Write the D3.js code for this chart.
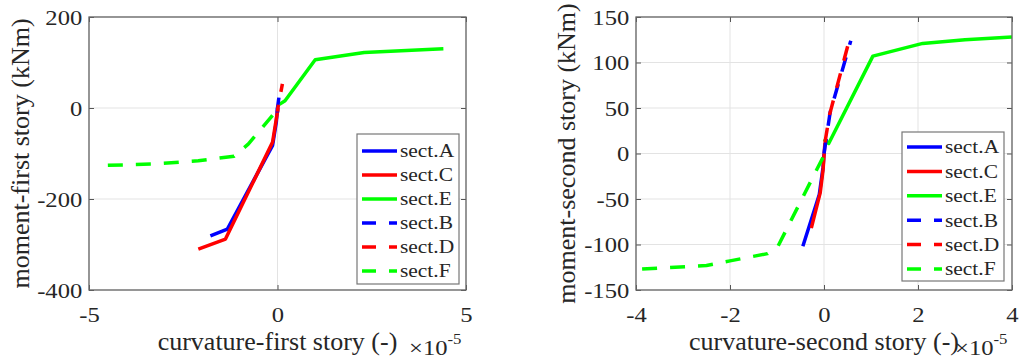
<!DOCTYPE html>
<html>
<head>
<meta charset="utf-8">
<script src="https://cdn.jsdelivr.net/npm/d3@7/dist/d3.min.js"></script>
<style>
  body { margin: 0; background: #fff; }
  svg text { font-family: "Liberation Serif", "Times New Roman", serif; fill: #262626; }
</style>
</head>
<body>
<svg id="chart" width="1025" height="363"></svg>
<script>
// ---- data: curvature (x 1e-5) vs moment (kNm) per section ----
const sectionNames = ["sect.A", "sect.C", "sect.E", "sect.B", "sect.D", "sect.F"];
const sectionColors = ["#0000ff", "#ff0000", "#00ff00", "#0000ff", "#ff0000", "#00ff00"];
const sectionDashed = [false, false, false, true, true, true];

// first story
const firstA = [[-1.78, -281], [-1.33, -266], [-0.13, -82], [-0.03, -30], [0, 0]];
const firstC = [[-2.1, -310], [-1.38, -288], [-0.13, -75], [0, -8], [0.01, 0]];
const firstE = [[0.05, 8], [0.2, 16], [1.0, 106], [2.3, 122], [4.4, 130]];
const firstB = [[0, -10], [0, 0], [0.05, 31]];
const firstD = [[0, -8], [0.01, 0], [0.13, 53]];
const firstF = [[-4.5, -126], [-3.3, -123], [-2.1, -116], [-1.15, -106], [-0.77, -79], [0, -3]];

// second story
const secondA = [[-0.45, -102], [-0.1, -45], [-0.02, -15], [0, 0]];
const secondC = [[-0.27, -82], [-0.08, -43], [-0.02, -18], [0.02, 12]];
const secondE = [[0.0, 16], [0.1, 11], [1.04, 107], [2.1, 121], [3.0, 125], [4.0, 128]];
const secondB = [[0, 0], [0.13, 45], [0.57, 124]];
const secondD = [[0.02, 12], [0.12, 43], [0.53, 123]];
const secondF = [[-3.87, -127], [-2.5, -123], [-2.0, -118], [-1.2, -110], [-0.98, -102], [0, -2]];

// axes limits and ticks
const firstXTicks = [-5, 0, 5];
const firstYTicks = [-400, -200, 0, 200];
const secondXTicks = [-4, -2, 0, 2, 4];
const secondYTicks = [-150, -100, -50, 0, 50, 100, 150];

const firstXLabel = "curvature-first story (-)";
const firstYLabel = "moment-first story (kNm)";
const secondXLabel = "curvature-second story (-)";
const secondYLabel = "moment-second story (kNm)";

// ---- drawing ----
const svg = d3.select("#chart");
const SERIF = '"Liberation Serif", "Times New Roman", serif';
const TICK_FONT = 22, TICK_SX = 1.12;
const LEG_FONT = 19.5, LEG_SX = 1.1;
const LABEL_FONT = 26;
const DASH = "15,13";
const LW = 3.5;

function panel(cfg) {
  const { id, left, right, top, bottom, xTicks, yTicks, series, dashOffsets, xLabel, yLabel, legend, yLabelX } = cfg;
  const x = d3.scaleLinear().domain(d3.extent(xTicks)).range([left, right]);
  const y = d3.scaleLinear().domain(d3.extent(yTicks)).range([bottom, top]);
  const g = svg.append("g");

  // grid
  g.append("g").selectAll("line").data(xTicks).join("line")
    .attr("x1", d => x(d)).attr("x2", d => x(d)).attr("y1", top).attr("y2", bottom)
    .attr("stroke", "#e3e3e3").attr("stroke-width", 1);
  g.append("g").selectAll("line").data(yTicks).join("line")
    .attr("x1", left).attr("x2", right).attr("y1", d => y(d)).attr("y2", d => y(d))
    .attr("stroke", "#e3e3e3").attr("stroke-width", 1);

  // series
  g.append("clipPath").attr("id", "clip" + id).append("rect")
    .attr("x", left).attr("y", top).attr("width", right - left).attr("height", bottom - top);
  const line = d3.line().x(d => x(d[0])).y(d => y(d[1]));
  const plot = g.append("g").attr("clip-path", `url(#clip${id})`);
  series.forEach((s, i) => {
    plot.append("path").attr("d", line(s))
      .attr("fill", "none").attr("stroke", sectionColors[i]).attr("stroke-width", LW)
      .attr("stroke-linejoin", "round")
      .attr("stroke-dasharray", sectionDashed[i] ? DASH : null)
      .attr("stroke-dashoffset", sectionDashed[i] ? dashOffsets[i] : null);
  });

  // axes (inward ticks on all four sides)
  const axB = g.append("g").attr("transform", `translate(0,${bottom})`)
    .call(d3.axisBottom(x).tickValues(xTicks).tickSize(-5).tickPadding(16).tickFormat(d3.format("d")));
  const axT = g.append("g").attr("transform", `translate(0,${top})`)
    .call(d3.axisTop(x).tickValues(xTicks).tickSize(-5).tickFormat(""));
  const axL = g.append("g").attr("transform", `translate(${left},0)`)
    .call(d3.axisLeft(y).tickValues(yTicks).tickSize(-5).tickPadding(6).tickFormat(d3.format("d")));
  const axR = g.append("g").attr("transform", `translate(${right},0)`)
    .call(d3.axisRight(y).tickValues(yTicks).tickSize(-5).tickFormat(""));
  [axB, axT, axL, axR].forEach(a => {
    a.attr("font-family", SERIF).attr("font-size", TICK_FONT);
    a.select(".domain").remove();
    a.selectAll(".tick line").attr("stroke", "#555").attr("stroke-width", 1);
    a.selectAll("text")
      .style("font-family", SERIF).style("font-size", TICK_FONT + "px")
      .attr("fill", "#262626").attr("transform", `scale(${TICK_SX},1)`);
  });
  axB.selectAll("text").text(d => String(d));
  axL.selectAll("text").text(d => String(d));

  // box
  g.append("rect").attr("x", left).attr("y", top).attr("width", right - left).attr("height", bottom - top)
    .attr("fill", "none").attr("stroke", "#666").attr("stroke-width", 1.3);

  // axis labels
  g.append("text").attr("x", (left + right) / 2).attr("y", 350)
    .attr("text-anchor", "middle").attr("font-size", LABEL_FONT).text(xLabel);
  g.append("text").attr("transform", `translate(${yLabelX},${(top + bottom) / 2}) rotate(-90)`)
    .attr("text-anchor", "middle").attr("font-size", LABEL_FONT).text(yLabel);

  // exponent
  const ex = g.append("text").attr("transform", `translate(${right - 57},355) scale(${TICK_SX},1)`)
    .attr("font-size", TICK_FONT);
  ex.append("tspan").text("\u00d710");
  ex.append("tspan").attr("font-size", 15).attr("dy", -11).text("-5");

  // legend
  const lg = g.append("g");
  lg.append("rect").attr("x", legend.x).attr("y", legend.y).attr("width", legend.w).attr("height", legend.h)
    .attr("fill", "#fff").attr("stroke", "#777").attr("stroke-width", 1.2);
  sectionNames.forEach((name, i) => {
    const cy = legend.y + legend.first + i * legend.step;
    lg.append("line").attr("x1", legend.x + 5).attr("x2", legend.x + 40).attr("y1", cy).attr("y2", cy)
      .attr("stroke", sectionColors[i]).attr("stroke-width", LW)
      .attr("stroke-dasharray", sectionDashed[i] ? "14,13" : null);
    lg.append("text").attr("transform", `translate(${legend.x + 43},${cy}) scale(${LEG_SX},1)`)
      .attr("dy", "0.33em").attr("font-size", LEG_FONT).text(name);
  });
}

panel({
  id: "first", left: 89, right: 466, top: 17, bottom: 290,
  xTicks: firstXTicks, yTicks: firstYTicks,
  series: [firstA, firstC, firstE, firstB, firstD, firstF],
  dashOffsets: [0, 0, 0, 0, 8, 0],
  xLabel: firstXLabel, yLabel: firstYLabel, yLabelX: 29,
  legend: { x: 357, y: 134, w: 102, h: 150, first: 17, step: 24 }
});

panel({
  id: "second", left: 636, right: 1012, top: 17, bottom: 290,
  xTicks: secondXTicks, yTicks: secondYTicks,
  series: [secondA, secondC, secondE, secondB, secondD, secondF],
  dashOffsets: [0, 0, 0, 0, 0, 0],
  xLabel: secondXLabel, yLabel: secondYLabel, yLabelX: 575,
  legend: { x: 902, y: 132, w: 102, h: 149, first: 15, step: 24.4 }
});
</script>
</body>
</html>
